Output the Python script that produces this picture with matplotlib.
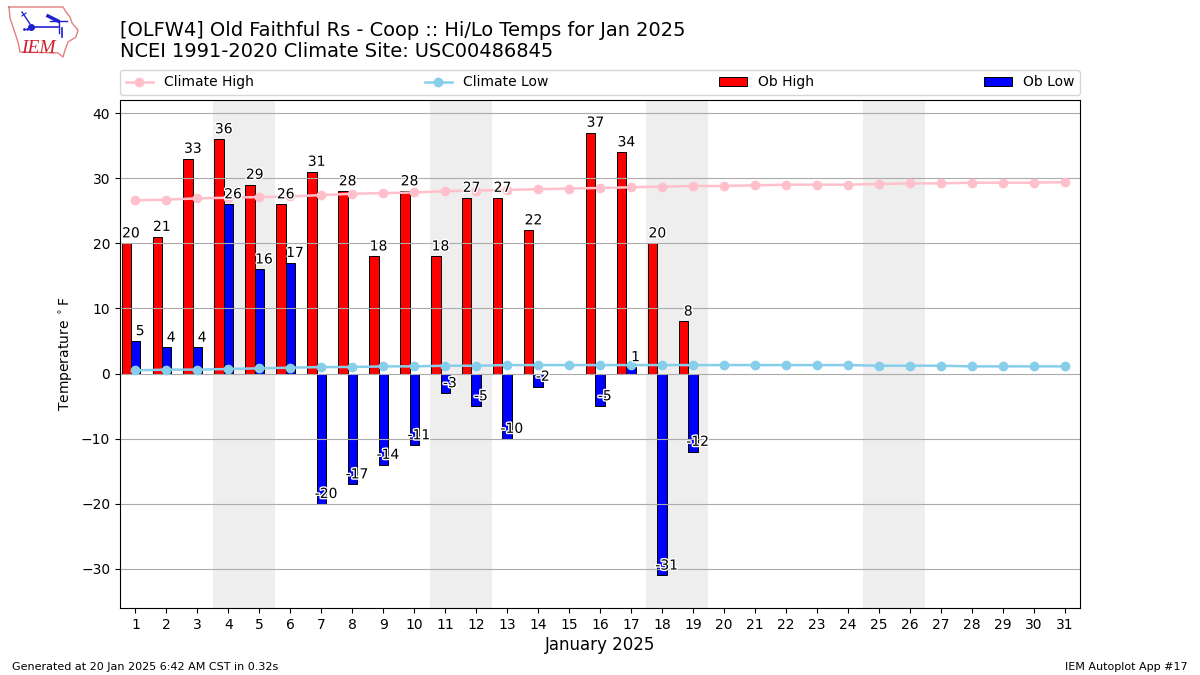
"""Old Faithful hi/lo temperatures for January 2025 against climate."""
import matplotlib
import matplotlib.pyplot as plt
import matplotlib.patheffects as PathEffects
import numpy as np

matplotlib.use("Agg")

days = list(range(1, 32))
ob_days = [1, 2, 3, 4, 5, 6, 7, 8, 9, 10, 11, 12, 13, 14, 16, 17, 18, 19]
ob_high = [20, 21, 33, 36, 29, 26, 31, 28, 18, 28, 18, 27, 27, 22, 37, 34, 20, 8]
ob_low = [5, 4, 4, 26, 16, 17, -20, -17, -14, -11, -3, -5, -10, -2, -5, 1, -31, -12]
climate_high = [26.6, 26.7, 26.9, 27.0, 27.1, 27.2, 27.4, 27.6, 27.7, 27.8, 28.0,
                28.1, 28.2, 28.3, 28.4, 28.5, 28.6, 28.7, 28.8, 28.8, 28.9, 29.0,
                29.0, 29.0, 29.1, 29.2, 29.2, 29.3, 29.3, 29.3, 29.4]
climate_low = [0.5, 0.6, 0.6, 0.7, 0.8, 0.9, 1.0, 1.0, 1.1, 1.1, 1.2, 1.2, 1.3,
               1.3, 1.3, 1.3, 1.3, 1.3, 1.3, 1.3, 1.3, 1.3, 1.3, 1.3, 1.2, 1.2,
               1.2, 1.1, 1.1, 1.1, 1.1]
weekends = [(3.5, 5.5), (10.5, 12.5), (17.5, 19.5), (24.5, 26.5)]

W, H = 1200, 675
WIDTH = 0.3
fig = plt.figure(figsize=(12, 6.75), dpi=100)
ax = fig.add_axes([120 / W, 1 - 608 / H, 960 / W, 508 / H])

for start, end in weekends:
    ax.axvspan(start, end, color="#EEEEEE", lw=0, zorder=0.5)

x = np.array(ob_days)
ax.bar(x - WIDTH, ob_high, WIDTH, color="red", edgecolor="black", lw=0.7, label="Ob High")
ax.bar(x, ob_low, WIDTH, color="blue", edgecolor="black", lw=0.7, label="Ob Low")
ax.plot(days, climate_high, color="pink", marker="o", lw=1.8, label="Climate High")
ax.plot(days, climate_low, color="skyblue", marker="o", lw=1.8, label="Climate Low")

stroke = [PathEffects.withStroke(linewidth=2, foreground="white")]
for day, val in zip(ob_days, ob_high):
    ax.text(day - WIDTH / 2, val + 0.9, str(val), ha="center", va="baseline", path_effects=stroke)
for day, val in zip(ob_days, ob_low):
    ax.text(day + WIDTH / 2, val + 0.9, str(val), ha="center", va="baseline", path_effects=stroke)

ax.set_xlim(0.5, 31.5)
ax.set_ylim(-36, 42)
ax.set_xticks(days)
ax.set_yticks(np.arange(-30, 41, 10))
ax.grid(axis="y", color="#ABABAB", lw=0.8)
ax.set_ylabel(r"Temperature $^\circ$F")
ax.set_xlabel("January 2025", fontsize=12, labelpad=3)

handles, labels = ax.get_legend_handles_labels()
order = [labels.index(n) for n in ["Climate High", "Climate Low", "Ob High", "Ob Low"]]
ax.legend([handles[i] for i in order], [labels[i] for i in order], ncol=4, mode="expand",
          loc="lower left", bbox_to_anchor=(0, 1.01, 1, 0.05), borderaxespad=0)

fig.text(120 / W, 1 - 36 / H, "[OLFW4] Old Faithful Rs - Coop :: Hi/Lo Temps for Jan 2025",
         fontsize=13.98, va="baseline")
fig.text(120 / W, 1 - 57 / H, "NCEI 1991-2020 Climate Site: USC00486845",
         fontsize=13.98, va="baseline")
fig.text(12 / W, 1 - 670 / H, "Generated at 20 Jan 2025 6:42 AM CST in 0.32s", fontsize=8, va="baseline")
fig.text(1188 / W, 1 - 670 / H, "IEM Autoplot App #17", fontsize=8, ha="right", va="baseline")

# rough logo, pixel coordinates of the reference
logo = fig.add_axes([0, 1 - 65 / H, 90 / W, 65 / H])
logo.set_xlim(0, 90)
logo.set_ylim(65, 0)
logo.axis("off")
logo.plot([9, 63, 66, 70, 72, 78, 76, 68, 65, 63, 58, 20, 18, 12, 10, 9],
          [7, 7, 12, 17, 23, 30, 37, 42, 50, 57, 53, 52, 42, 24, 18, 7], color="#E08080", lw=1)
blue = "#2020D0"
logo.plot([31, 58], [27, 27], color=blue, lw=1.2)
logo.plot([48, 58], [16, 21], color=blue, lw=2.5)
logo.plot([50, 67], [21, 21], color=blue, lw=1)
logo.plot([59, 59], [21, 33], color=blue, lw=1)
logo.plot([62, 62], [28, 37], color=blue, lw=1.2)
logo.plot([22, 30], [12, 24], color=blue, lw=1)
logo.plot([22, 26], [16, 13], color=blue, lw=0.8)
logo.plot([31], [27], "o", color=blue, ms=4)
logo.plot([24, 27], [29, 29], ".", color=blue, ms=2)
logo.text(21, 53, "IEM", color="#D02030", fontsize=14, style="italic", family="Liberation Serif", va="baseline")

fig.savefig("out.png", dpi=100)
